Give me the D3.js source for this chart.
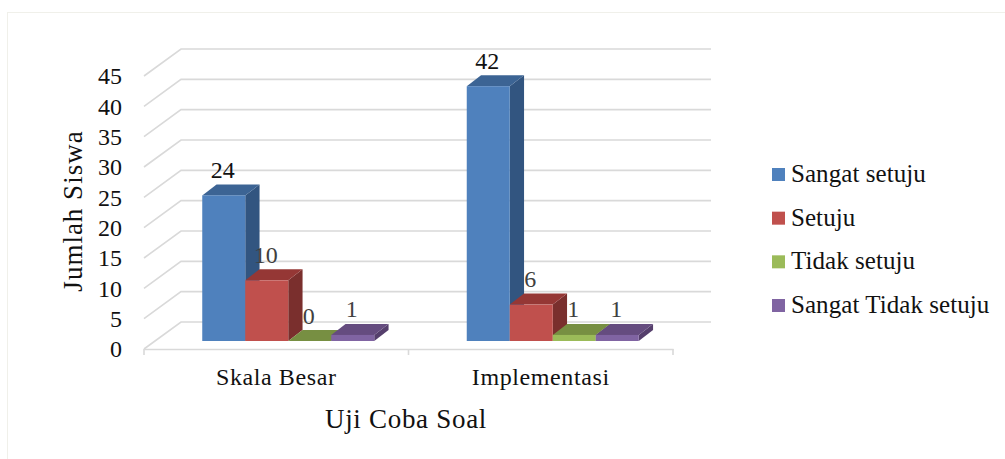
<!DOCTYPE html>
<html>
<head>
<meta charset="utf-8">
<script src="https://cdn.jsdelivr.net/npm/d3@7/dist/d3.min.js"></script>
<style>
html,body{margin:0;padding:0;background:#fff;}
svg{display:block;}
text{font-family:"Liberation Serif",serif;}
</style>
</head>
<body>
<svg id="chart" width="1005" height="459"></svg>
<script>
// Survey responses per trial stage
const categories = ["Skala Besar", "Implementasi"];
const seriesNames = ["Sangat setuju", "Setuju", "Tidak setuju", "Sangat Tidak setuju"];
const sangatSetuju = [24, 42];
const setuju = [10, 6];
const tidakSetuju = [0, 1];
const sangatTidakSetuju = [1, 1];
const yTicks = [0, 5, 10, 15, 20, 25, 30, 35, 40, 45];
const seriesValues = [sangatSetuju, setuju, tidakSetuju, sangatTidakSetuju];

// Face colours: front, top, side
const faces = [
  ["#4f81bd", "#3c6494", "#325580"],
  ["#c0504d", "#953735", "#7a2f2d"],
  ["#9bbb59", "#778f42", "#667a38"],
  ["#8064a2", "#654c7f", "#553f6c"]
];

const svg = d3.select("#chart");

// Outer frame
svg.append("rect")
  .attr("x", 7.5).attr("y", 12.5)
  .attr("width", 1100).attr("height", 500)
  .attr("fill", "#fff").attr("stroke", "#f0f0ea").attr("stroke-width", 1);

// Oblique projection: the floor recedes up and to the right
const floorFront = 349, floorLeft = 144, floorRight = 673;
const wallDx = 37, wallDy = -27, wallRight = 711;
const barDx = 14.3, barDy = -11;
const barInsetDx = 12, barInsetDy = -8;

const y = d3.scaleLinear().domain([0, 45]).range([floorFront, floorFront - 273]);
const x0 = d3.scaleBand().domain(categories).range([floorLeft, floorRight]);
const barWidth = 43;
const x1 = d3.scaleBand().domain(d3.range(seriesNames.length))
  .range([0, barWidth * seriesNames.length]);

// Wall gridlines, each bending along the side wall
const gridColor = "#d9d9d9";
svg.append("g").selectAll("path").data(yTicks).join("path")
  .attr("fill", "none").attr("stroke", gridColor).attr("stroke-width", 1.6)
  .attr("d", t => d3.line()([
    [floorLeft, y(t)],
    [floorLeft + wallDx, y(t) + wallDy],
    [wallRight, y(t) + wallDy]
  ]));

// Front edge of the floor with category ticks
const catAxis = d3.axisBottom(x0).tickValues([]).tickSize(0);
const gx = svg.append("g").attr("transform", `translate(0,${floorFront})`).call(catAxis);
gx.select(".domain").attr("stroke", gridColor).attr("stroke-width", 1.6);
svg.append("g").selectAll("line")
  .data([floorLeft, floorLeft + x0.bandwidth(), floorRight]).join("line")
  .attr("x1", d => d).attr("x2", d => d)
  .attr("y1", floorFront).attr("y2", floorFront + 6)
  .attr("stroke", gridColor).attr("stroke-width", 1.6);

// Category labels
svg.append("g").selectAll("text").data(categories).join("text")
  .attr("x", d => x0(d) + x0.bandwidth() / 2)
  .attr("y", 385)
  .attr("text-anchor", "middle")
  .attr("font-size", 24).attr("letter-spacing", 0.6).attr("fill", "#111")
  .text(d => d);

// Value axis labels
const gy = svg.append("g").attr("transform", "translate(122,0)")
  .call(d3.axisLeft(y).tickValues(yTicks).tickSize(0).tickPadding(0));
gy.select(".domain").remove();
gy.selectAll("text")
  .style("font-family", '"Liberation Serif",serif')
  .attr("font-size", 24).attr("fill", "#111").attr("dy", "0.32em");

// Bars are painted left to right so neighbours overlap correctly
const barsLayer = svg.append("g");
const groupStart = cat => x0(cat) + (x0.bandwidth() - barWidth * seriesNames.length) / 2 + barInsetDx;
const barBase = floorFront + barInsetDy;
const barTop = v => barBase - (y(0) - y(v));
categories.forEach((cat, ci) => {
  seriesValues.forEach((vals, si) => {
    const v = vals[ci];
    const bx = groupStart(cat) + x1(si);
    const top = barTop(v);
    const g = barsLayer.append("g");
    const line = d3.line();
    g.append("path").attr("fill", faces[si][2]).attr("d", line([
      [bx + barWidth, top], [bx + barWidth + barDx, top + barDy],
      [bx + barWidth + barDx, barBase + barDy], [bx + barWidth, barBase]
    ]) + "Z");
    g.append("path").attr("fill", faces[si][1]).attr("d", line([
      [bx, top], [bx + barDx, top + barDy],
      [bx + barWidth + barDx, top + barDy], [bx + barWidth, top]
    ]) + "Z");
    g.append("rect").attr("x", bx).attr("y", top)
      .attr("width", barWidth).attr("height", barBase - top)
      .attr("fill", faces[si][0]);
  });
});

// Value labels sit above each bar's top face
const labelLayer = svg.append("g");
categories.forEach(cat => {
  const ci = categories.indexOf(cat);
  seriesValues.forEach((vals, si) => {
    const v = vals[ci];
    labelLayer.append("text")
      .attr("x", groupStart(cat) + x1(si) + barWidth / 2 - 1)
      .attr("y", barTop(v) + barDy - 6.5)
      .attr("text-anchor", "middle")
      .attr("font-size", 24)
      .attr("fill", si === 0 ? "#111" : "#404040")
      .text(v);
  });
});

// Axis titles
svg.append("text")
  .attr("transform", "translate(82,211) rotate(-90)")
  .attr("text-anchor", "middle").attr("font-size", 27).attr("letter-spacing", 1).attr("fill", "#111")
  .text("Jumlah Siswa");
svg.append("text")
  .attr("x", 406).attr("y", 428)
  .attr("text-anchor", "middle").attr("font-size", 27).attr("letter-spacing", 0.7).attr("fill", "#111")
  .text("Uji Coba Soal");

// Legend
const legendY = d3.scalePoint().domain(seriesNames).range([174.5, 305.5]);
const legend = svg.append("g").selectAll("g").data(seriesNames).join("g")
  .attr("transform", d => `translate(772,${legendY(d)})`);
legend.append("rect")
  .attr("x", 0).attr("y", -6.5).attr("width", 13).attr("height", 13)
  .attr("fill", (d, i) => faces[i][0]);
legend.append("text")
  .attr("x", 19).attr("y", 7.5)
  .attr("font-size", 25).attr("letter-spacing", 0.06).attr("fill", "#111")
  .text(d => d);
</script>
</body>
</html>
